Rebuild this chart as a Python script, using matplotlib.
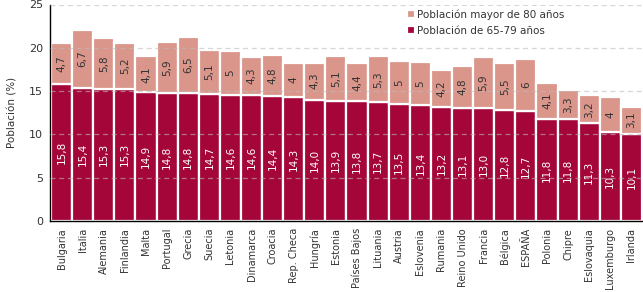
import matplotlib
matplotlib.use("Agg")
import matplotlib.pyplot as plt
import numpy as np

countries = ["Bulgaria", "Italia", "Alemania", "Finlandia", "Malta", "Portugal", "Grecia",
             "Suecia", "Letonia", "Dinamarca", "Croacia", "Rep. Checa", "Hungría", "Estonia",
             "Países Bajos", "Lituania", "Austria", "Eslovenia", "Rumania", "Reino Unido",
             "Francia", "Bélgica", "ESPAÑA", "Polonia", "Chipre", "Eslovaquia", "Luxemburgo", "Irlanda"]
pop_65_79 = [15.8, 15.4, 15.3, 15.3, 14.9, 14.8, 14.8, 14.7, 14.6, 14.6, 14.4, 14.3, 14.0, 13.9,
             13.8, 13.7, 13.5, 13.4, 13.2, 13.1, 13.0, 12.8, 12.7, 11.8, 11.8, 11.3, 10.3, 10.1]
pop_80 = [4.7, 6.7, 5.8, 5.2, 4.1, 5.9, 6.5, 5.1, 5, 4.3, 4.8, 4, 4.3, 5.1,
          4.4, 5.3, 5, 5, 4.2, 4.8, 5.9, 5.5, 6, 4.1, 3.3, 3.2, 4, 3.1]
labels_65_79 = ["15,8", "15,4", "15,3", "15,3", "14,9", "14,8", "14,8", "14,7", "14,6", "14,6",
                "14,4", "14,3", "14,0", "13,9", "13,8", "13,7", "13,5", "13,4", "13,2", "13,1",
                "13,0", "12,8", "12,7", "11,8", "11,8", "11,3", "10,3", "10,1"]
labels_80 = ["4,7", "6,7", "5,8", "5,2", "4,1", "5,9", "6,5", "5,1", "5", "4,3", "4,8", "4", "4,3",
             "5,1", "4,4", "5,3", "5", "5", "4,2", "4,8", "5,9", "5,5", "6", "4,1", "3,3", "3,2", "4", "3,1"]
yticks = [0, 5, 10, 15, 20, 25]

dark = "#A5063A"
light = "#DA968B"

fig = plt.figure(figsize=(6.43, 2.92), dpi=100)
ax = fig.add_axes([50/643, 71/292, 593/643, 216.5/292])

x = np.arange(len(countries))
b1 = ax.bar(x, pop_65_79, width=1.0, color=dark, edgecolor="white", linewidth=1.6,
            label="Población de 65-79 años", zorder=2)
b2 = ax.bar(x, pop_80, width=1.0, bottom=pop_65_79, color=light, edgecolor="white",
            linewidth=1.6, label="Población mayor de 80 años", zorder=2)

for i in range(len(countries)):
    ax.text(x[i], pop_65_79[i] / 2, labels_65_79[i], rotation=90, ha="center", va="center",
            color="white", fontsize=7.5, zorder=4)
    ax.text(x[i], pop_65_79[i] + pop_80[i] / 2, labels_80[i], rotation=90, ha="center",
            va="center", color="#333333", fontsize=7.5, zorder=4)

ax.set_xlim(-0.55, len(countries) - 0.45)
ax.set_ylim(0, 25)
ax.set_yticks(yticks)
ax.set_yticklabels([str(t) for t in yticks], fontsize=8, color="#333333")
ax.set_xticks(x)
ax.set_xticklabels(countries, rotation=90, fontsize=7, color="#333333")
ax.tick_params(axis="both", length=0, pad=5)
ax.yaxis.grid(True, linestyle=(0, (4, 3)), color="#BBBBBB", linewidth=0.9, zorder=3, alpha=0.6)
ax.set_axisbelow(False)
for s in ["top", "right"]:
    ax.spines[s].set_visible(False)
ax.spines["left"].set_color("black")
ax.spines["bottom"].set_color("black")
ax.spines["left"].set_linewidth(1.0)
ax.spines["bottom"].set_linewidth(1.0)
ax.set_ylabel("Población (%)", fontsize=7.5, color="#333333", labelpad=8)

leg = ax.legend(handles=[b2, b1], loc="upper left", bbox_to_anchor=(0.588, 1.015), frameon=True,
                facecolor="white", edgecolor="none", framealpha=1.0, fontsize=7.5, handlelength=0.8,
                handleheight=0.8, handletextpad=0.15, labelspacing=0.55, borderpad=0.3)
for t in leg.get_texts():
    t.set_color("#333333")

fig.savefig("out.png", dpi=100)
